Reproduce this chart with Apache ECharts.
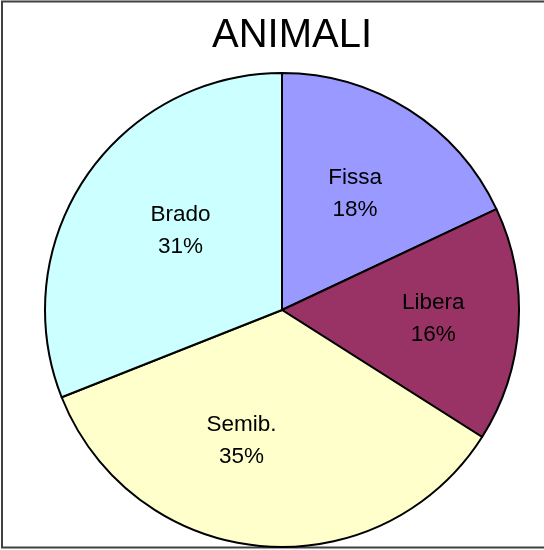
<!DOCTYPE html>
<html>
<head>
<meta charset="utf-8">
<script src="https://cdn.jsdelivr.net/npm/echarts@6/dist/echarts.min.js"></script>
<style>
html,body{margin:0;padding:0;background:#fff;}
#c{width:544px;height:550px;}
</style>
</head>
<body>
<div id="c"></div>
<script>
const categories = ['Fissa', 'Libera', 'Semib.', 'Brado'];
const values = [18, 16, 35, 31];
const colors = ['#9999FF', '#993366', '#FFFFCC', '#CCFFFF'];
// small nudges of the label text away from the library's inside position
const labelNudge = [[8, -14], [30, 1], [-29, 10], [-1, -11]];

const chart = echarts.init(document.getElementById('c'), null, {renderer: 'canvas'});
const data = categories.map((n, i) => ({
  name: n,
  value: values[i],
  itemStyle: {color: colors[i]},
  label: {offset: labelNudge[i]}
}));

chart.setOption({
  animation: false,
  backgroundColor: '#fff',
  title: {
    text: 'ANIMALI',
    left: 207,
    top: 11,
    textStyle: {fontFamily: 'Liberation Sans, Arial, sans-serif', fontSize: 40, fontWeight: 'normal', color: '#000'}
  },
  graphic: [{
    type: 'rect',
    shape: {x: 2, y: 1.5, width: 546, height: 546},
    style: {fill: 'none', stroke: '#404040', lineWidth: 2},
    silent: true
  }],
  series: [{
    type: 'pie',
    center: [282, 310],
    radius: [0, 237],
    startAngle: 90,
    clockwise: true,
    data: data,
    label: {
      show: true,
      position: 'inside',
      formatter: function (p) { return p.name + '\n' + Math.round(p.percent) + '%'; },
      fontFamily: 'Liberation Sans, Arial, sans-serif',
      fontSize: 22.5,
      lineHeight: 32,
      color: '#000'
    },
    labelLine: {show: false},
    itemStyle: {borderColor: '#000', borderWidth: 2},
    emphasis: {disabled: true},
    silent: true
  }]
});
</script>
</body>
</html>
